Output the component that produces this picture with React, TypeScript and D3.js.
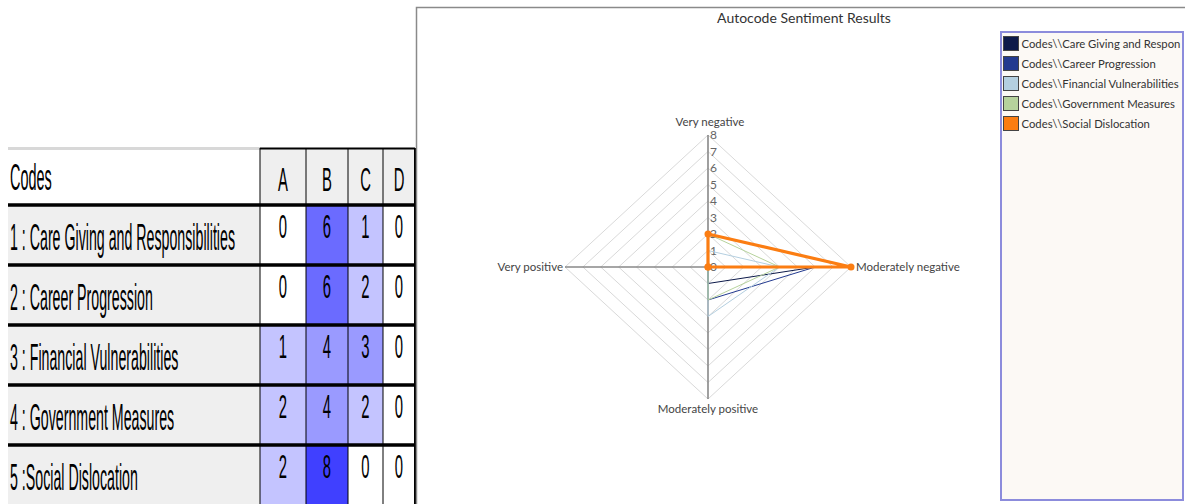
import React from "react";
import * as d3 from "d3";

// ---------- DATA ----------
const codeLabels = [
  "1 : Care Giving and Responsibilities",
  "2 : Career Progression",
  "3 : Financial Vulnerabilities",
  "4 : Government Measures",
  "5 :Social Dislocation",
];
const columnLabels = ["A", "B", "C", "D"];
const careGiving = [0, 6, 1, 0];
const careerProgression = [0, 6, 2, 0];
const financialVulnerabilities = [1, 4, 3, 0];
const governmentMeasures = [2, 4, 2, 0];
const socialDislocation = [2, 8, 0, 0];
const tableRows = [careGiving, careerProgression, financialVulnerabilities, governmentMeasures, socialDislocation];

const axisLabels = ["Very negative", "Moderately negative", "Moderately positive", "Very positive"];
const radarTicks = [0, 1, 2, 3, 4, 5, 6, 7, 8];
const legendLabels = [
  "Codes\\\\Care Giving and Respon",
  "Codes\\\\Career Progression",
  "Codes\\\\Financial Vulnerabilities",
  "Codes\\\\Government Measures",
  "Codes\\\\Social Dislocation",
];
const seriesColors = ["#0d1a4a", "#233a8f", "#b4cfe0", "#b6d29c", "#fb7d12"];
const title = "Autocode Sentiment Results";

// ---------- LAYOUT ----------
const W = 1185;
const H = 504;

const tableLeft = 8;
const headerTop = 148;
const headerBottom = 205;
const rowH = 60;
const colEdges = [260, 306, 348, 383, 415];

const cx = 708;
const cy = 267;
const rx = d3.scaleLinear().domain([0, 8]).range([0, 143]);
const ry = d3.scaleLinear().domain([0, 8]).range([0, 132]);

const cellColor = d3
  .scaleThreshold<number, string>()
  .domain([1, 3, 5, 7])
  .range(["#ffffff", "#c4c4ff", "#9a9aff", "#6b6bff", "#4040ff"]);

function pt(i: number, v: number): [number, number] {
  const a = (i * Math.PI) / 2;
  return [cx + rx(v) * Math.sin(a), cy - ry(v) * Math.cos(a)];
}

const lineGen = d3
  .line<[number, number]>()
  .x((d) => d[0])
  .y((d) => d[1])
  .curve(d3.curveLinearClosed);

const LABEL_FONT = "'Liberation Sans', Arial, sans-serif";
const CHART_FONT = "Lato, 'Open Sans', sans-serif";

export default function App() {
  const rowScale = d3
    .scaleBand<string>()
    .domain(codeLabels)
    .range([headerBottom, headerBottom + rowH * codeLabels.length]);

  const colCenter = (j: number) => (colEdges[j] + colEdges[j + 1]) / 2;

  return (
    <svg width={W} height={H} style={{ position: "absolute", left: 0, top: 0, background: "#fff" }}>
      {/* ---------------- TABLE ---------------- */}
      <g>
        <rect x={tableLeft} y={headerTop} width={colEdges[0] - tableLeft} height={headerBottom - headerTop} fill="#ffffff" />
        <rect x={tableLeft} y={headerTop - 1} width={colEdges[0] - tableLeft} height={3} fill="#d8d8d8" />
        {columnLabels.map((c, j) => (
          <rect
            key={c}
            x={colEdges[j]}
            y={headerTop}
            width={colEdges[j + 1] - colEdges[j]}
            height={headerBottom - headerTop}
            fill="#efefef"
          />
        ))}
        <line x1={colEdges[0]} x2={colEdges[4]} y1={headerTop + 0.5} y2={headerTop + 0.5} stroke="#000" strokeWidth={2} />
        <text transform={`translate(${tableLeft + 2},${190}) scale(0.39,1)`} fontFamily={LABEL_FONT} fontSize={37} fill="#000">
          Codes
        </text>
        {columnLabels.map((c, j) => (
          <text
            key={c}
            transform={`translate(${colCenter(j)},${191}) scale(0.45,1)`}
            textAnchor="middle"
            fontFamily={LABEL_FONT}
            fontSize={33}
            fill="#000"
          >
            {c}
          </text>
        ))}

        {codeLabels.map((label, i) => {
          const y0 = rowScale(label)!;
          return (
            <g key={label}>
              <rect x={tableLeft} y={y0} width={colEdges[0] - tableLeft} height={rowH} fill="#efefef" />
              {tableRows[i].map((v, j) => (
                <rect
                  key={j}
                  x={colEdges[j]}
                  y={y0}
                  width={colEdges[j + 1] - colEdges[j]}
                  height={rowH}
                  fill={cellColor(v)}
                />
              ))}
              <text
                transform={`translate(${tableLeft + 2},${y0 + 45}) scale(0.384,1)`}
                fontFamily={LABEL_FONT}
                fontSize={37}
                fill="#000"
              >
                {label}
              </text>
              {tableRows[i].map((v, j) => (
                <text
                  key={"t" + j}
                  transform={`translate(${colCenter(j)},${y0 + 33}) scale(0.45,1)`}
                  textAnchor="middle"
                  fontFamily={LABEL_FONT}
                  fontSize={33}
                  fill="#000"
                >
                  {v}
                </text>
              ))}
            </g>
          );
        })}

        {colEdges.map((x, k) => (
          <line
            key={"v" + k}
            x1={x}
            x2={x}
            y1={headerTop}
            y2={H}
            stroke="#000"
            strokeWidth={k === colEdges.length - 1 ? 2 : 1}
          />
        ))}
        {codeLabels.map((label) => {
          const y0 = rowScale(label)!;
          return <line key={"h" + label} x1={tableLeft} x2={colEdges[4]} y1={y0} y2={y0} stroke="#000" strokeWidth={3.5} />;
        })}
      </g>

      {/* ---------------- CHART PANEL ---------------- */}
      <path d={`M416.5,${H} L416.5,7.5 L${W},7.5`} fill="none" stroke="#8a8a8a" strokeWidth={1.5} />
      <text x={804} y={23} textAnchor="middle" fontFamily={CHART_FONT} fontSize={14} fill="#333">
        {title}
      </text>

      <g>
        {radarTicks
          .filter((t) => t > 0)
          .map((t) => (
            <path key={t} d={lineGen(axisLabels.map((_, i) => pt(i, t)))!} fill="none" stroke="#d9d9d9" strokeWidth={1} />
          ))}
      </g>
      <g>
        {axisLabels.map((_, i) => {
          const [x, y] = pt(i, 8);
          return <line key={i} x1={cx} y1={cy} x2={x} y2={y} stroke="#888" strokeWidth={1.6} />;
        })}
      </g>
      <g>
        {radarTicks.map((t) => (
          <text key={t} x={cx + 2} y={cy - ry(t)} dy="0.35em" fontFamily={CHART_FONT} fontSize={12} fill="#666">
            {t}
          </text>
        ))}
      </g>
      <g fontFamily={CHART_FONT} fontSize={11.5} fill="#444">
        <text x={pt(0, 8)[0] + 2} y={pt(0, 8)[1] - 9} textAnchor="middle">
          {axisLabels[0]}
        </text>
        <text x={pt(1, 8)[0] + 5} y={pt(1, 8)[1]} dy="0.35em" textAnchor="start">
          {axisLabels[1]}
        </text>
        <text x={pt(2, 8)[0]} y={pt(2, 8)[1] + 14} textAnchor="middle">
          {axisLabels[2]}
        </text>
        <text x={pt(3, 8)[0] - 2} y={pt(3, 8)[1]} dy="0.35em" textAnchor="end">
          {axisLabels[3]}
        </text>
      </g>

      <g>
        {tableRows.map((vals, s) => {
          const pts = vals.map((v, i) => pt(i, v));
          const isLast = s === tableRows.length - 1;
          return (
            <g key={s}>
              <path
                d={lineGen(pts)!}
                fill="none"
                stroke={seriesColors[s]}
                strokeWidth={isLast ? 3.2 : 1}
                strokeLinejoin="round"
              />
              {isLast && pts.map((p, i) => <circle key={i} cx={p[0]} cy={p[1]} r={3.5} fill={seriesColors[s]} />)}
            </g>
          );
        })}
      </g>

      <rect x={1001} y={32} width={182} height={468} fill="#fcf9f5" stroke="#8c8cdc" strokeWidth={2} />
      {legendLabels.map((l, i) => (
        <g key={l} transform={`translate(1003.5,${36.5 + i * 20})`}>
          <rect width={15} height={14} fill={seriesColors[i]} stroke="#444" strokeWidth={1} />
          <text x={18} y={11} fontFamily={CHART_FONT} fontSize={11.3} fill="#333">
            {l}
          </text>
        </g>
      ))}
    </svg>
  );
}
